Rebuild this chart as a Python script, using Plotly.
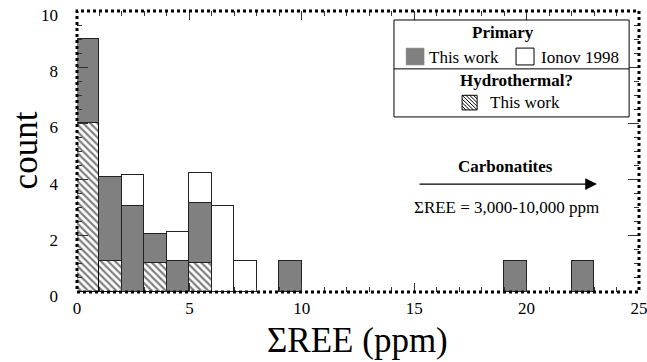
import plotly.graph_objects as go

# ---- data ----
hydro_bins = [0, 1, 3, 5]
hydro_counts = [6, 1.1, 1.05, 1.05]

primary_bins = [0, 1, 2, 3, 4, 5, 9, 19, 22]
primary_counts = [3, 3.0, 3.05, 1.0, 1.1, 2.1, 1.1, 1.1, 1.1]

ionov_bins = [2, 4, 5, 6, 7]
ionov_counts = [1.1, 1.05, 1.1, 3.05, 1.1]

x_ticks = [0, 5, 10, 15, 20, 25]
y_ticks = [0, 2, 4, 6, 8, 10]

FONT = "Liberation Serif, Times New Roman, serif"
GRAY = "#808080"

fig = go.Figure()
fig.add_trace(go.Bar(
    x=[b + 0.5 for b in hydro_bins], y=hydro_counts, width=1,
    marker=dict(color="white", line=dict(color="black", width=1.2),
                pattern=dict(shape="\\", fgcolor="black", bgcolor="white", size=5, solidity=0.45)),
    name="Hydrothermal? This work", showlegend=False))
fig.add_trace(go.Bar(
    x=[b + 0.5 for b in primary_bins], y=primary_counts, width=1,
    marker=dict(color=GRAY, line=dict(color="#222222", width=1.2)),
    name="Primary This work", showlegend=False))
fig.add_trace(go.Bar(
    x=[b + 0.5 for b in ionov_bins], y=ionov_counts, width=1,
    marker=dict(color="white", line=dict(color="#222222", width=1.2)),
    name="Ionov 1998", showlegend=False))

shapes = []
# dotted frame
shapes.append(dict(type="rect", xref="paper", yref="paper", x0=0, x1=1, y0=0, y1=1,
                   line=dict(color="black", width=3, dash="dot"), layer="above"))
# legend box and divider
shapes.append(dict(type="rect", xref="x", yref="y", x0=14.1, x1=24.56, y0=6.23, y1=9.68,
                   line=dict(color="black", width=1), fillcolor="white", layer="above"))
shapes.append(dict(type="line", xref="x", yref="y", x0=14.1, x1=24.56, y0=7.94, y1=7.94,
                   line=dict(color="black", width=1), layer="above"))
# legend swatches
shapes.append(dict(type="rect", xref="x", yref="y", x0=14.64, x1=15.44, y0=8.08, y1=8.68,
                   line=dict(color=GRAY, width=0.5), fillcolor=GRAY, layer="above"))
shapes.append(dict(type="rect", xref="x", yref="y", x0=19.53, x1=20.33, y0=8.08, y1=8.68,
                   line=dict(color="black", width=1), fillcolor="white", layer="above"))
hx0, hx1, hy0, hy1 = 17.13, 17.80, 6.48, 7.0
shapes.append(dict(type="rect", xref="x", yref="y", x0=hx0, x1=hx1, y0=hy0, y1=hy1,
                   line=dict(color="black", width=1), fillcolor="white", layer="above"))
# hatch lines inside swatch ("\" direction: upper-left to lower-right)
n = 4
for i in range(1, 2 * n):
    t = i / n
    if t <= 1:
        xa, ya = hx0 + (hx1 - hx0) * (1 - t), hy1
        xb, yb = hx1, hy1 - (hy1 - hy0) * t
    else:
        s = t - 1
        xa, ya = hx0, hy1 - (hy1 - hy0) * s
        xb, yb = hx1 - (hx1 - hx0) * s, hy0
    shapes.append(dict(type="line", xref="x", yref="y", x0=xa, y0=ya, x1=xb, y1=yb,
                       line=dict(color="black", width=1), layer="above"))

ann_font = dict(family=FONT, size=17, color="black")
annotations = [
    dict(x=18.95, y=9.25, xref="x", yref="y", text="<b>Primary</b>", showarrow=False,
         font=ann_font, xanchor="center", yanchor="middle"),
    dict(x=15.55, y=8.36, xref="x", yref="y", text="This work", showarrow=False,
         font=ann_font, xanchor="left", yanchor="middle"),
    dict(x=20.55, y=8.36, xref="x", yref="y", text="Ionov 1998", showarrow=False,
         font=ann_font, xanchor="left", yanchor="middle"),
    dict(x=19.53, y=7.54, xref="x", yref="y", text="<b>Hydrothermal?</b>", showarrow=False,
         font=ann_font, xanchor="center", yanchor="middle"),
    dict(x=18.3, y=6.74, xref="x", yref="y", text="This work", showarrow=False,
         font=ann_font, xanchor="left", yanchor="middle"),
    dict(x=19.04, y=4.45, xref="x", yref="y", text="<b>Carbonatites</b>", showarrow=False,
         font=ann_font, xanchor="center", yanchor="middle"),
    dict(x=19.1, y=3.02, xref="x", yref="y", text="ΣREE = 3,000-10,000 ppm", showarrow=False,
         font=ann_font, xanchor="center", yanchor="middle"),
    dict(x=23.13, y=3.84, ax=15.17, ay=3.84, xref="x", yref="y", axref="x", ayref="y",
         text="", showarrow=True, arrowhead=2, arrowsize=1.8, arrowwidth=1.3, arrowcolor="black"),
    dict(x=0.499, y=-0.171, xref="paper", yref="paper", text="ΣREE (ppm)", showarrow=False,
         font=dict(family=FONT, size=35, color="black"), xanchor="center", yanchor="middle"),
    dict(x=-0.092, y=0.505, xref="paper", yref="paper", text="count", showarrow=False, textangle=-90,
         font=dict(family=FONT, size=35, color="black"), xanchor="center", yanchor="middle"),
]

fig.update_layout(
    width=647, height=362,
    margin=dict(l=77, r=8, t=11, b=70, autoexpand=False),
    barmode="stack", bargap=0,
    plot_bgcolor="white", paper_bgcolor="white",
    shapes=shapes, annotations=annotations,
    font=dict(family=FONT, size=17, color="black"),
    xaxis=dict(range=[0, 25], tickmode="array", tickvals=x_ticks, ticks="inside", ticklen=9,
               tickcolor="#333333", tickwidth=1, mirror="ticks", showline=False, showgrid=False,
               zeroline=False, tickfont=dict(family=FONT, size=17), ticklabelstandoff=4,
               ticklabeloverflow="allow",
               minor=dict(dtick=1, tick0=0, ticks="inside", ticklen=5, tickcolor="#333333")),
    yaxis=dict(range=[0, 10], tickmode="array", tickvals=y_ticks, ticks="inside", ticklen=11,
               tickcolor="#333333", tickwidth=1, mirror="ticks", showline=False, showgrid=False,
               zeroline=False, tickfont=dict(family=FONT, size=17), ticklabelstandoff=18,
               ticklabelshift=4, ticklabeloverflow="allow",
               minor=dict(dtick=0.5, tick0=0, ticks="inside", ticklen=5, tickcolor="#333333")),
)

# remove the default page margin so the 647x362 figure fills the window exactly
fig.write_html("out.html", config={"displayModeBar": False},
               post_script="document.body.style.margin='0';document.body.style.overflow='hidden';")
